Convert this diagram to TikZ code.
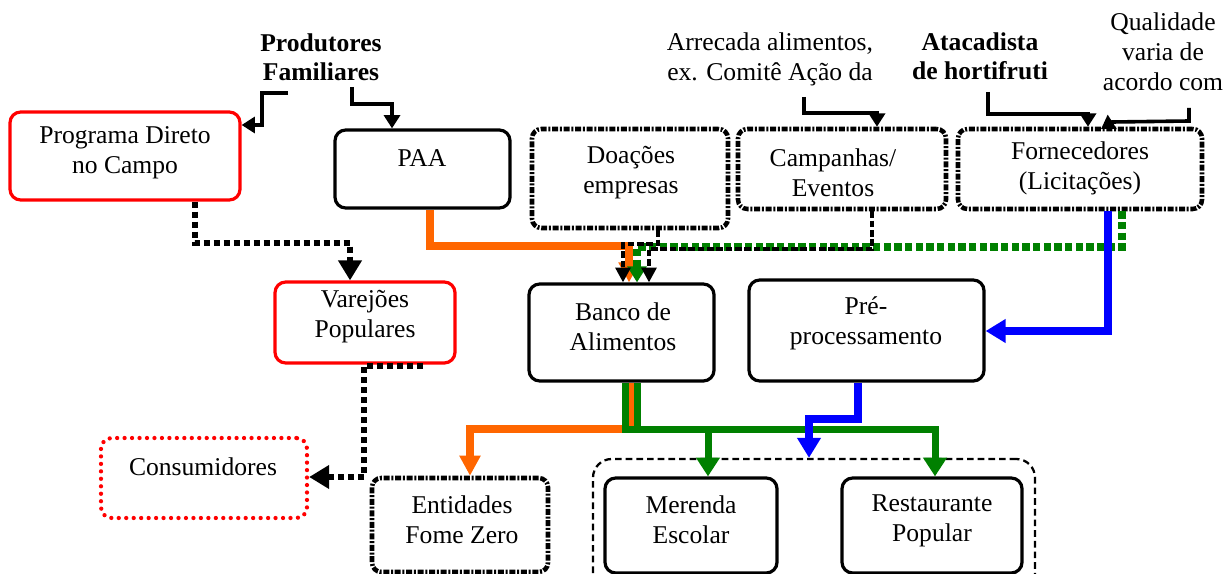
\documentclass[tikz,border=0pt]{standalone}
\usepackage{fontspec}
\setmainfont{Liberation Serif}
\usetikzlibrary{arrows.meta,fit}
\definecolor{myorange}{RGB}{255,102,0}
\definecolor{mygreen}{RGB}{0,128,0}
\definecolor{myblue}{RGB}{0,0,255}
\definecolor{myred}{RGB}{255,0,0}
\begin{document}
\begin{tikzpicture}[x=0.75pt,y=-0.75pt,
 every node/.style={font=\fontsize{19.2}{22.5}\selectfont},
 txt/.style={align=center, inner sep=0pt},
 boldtxt/.style={align=center, inner sep=0pt, font=\fontsize{19.2}{22}\selectfont\bfseries},
 boxsolid/.style={draw, line width=2.4pt, rounded corners=8pt, inner sep=0pt},
 boxred/.style={boxsolid, draw=myred},
 boxdd/.style={draw, line width=3.4pt, rounded corners=7pt, inner sep=0pt, dash pattern=on 4.5pt off 1.3pt on 1.5pt off 1.3pt},
 boxdot/.style={draw=myred, line width=3.2pt, rounded corners=8pt, inner sep=0pt, line cap=round, dash pattern=on 0pt off 5.6pt},
 grpbox/.style={draw, line width=1.7pt, rounded corners=14pt, inner sep=0pt, dash pattern=on 5pt off 3pt},
 thinarr/.style={draw, line width=2.7pt, -{Triangle[width=12pt,length=10pt]}},
 dotarr/.style={draw, line width=5pt, dash pattern=on 4.5pt off 3pt, -{Triangle[width=17pt,length=15pt]}},
 dasharr/.style={draw, line width=2.6pt, dash pattern=on 5pt off 2pt, -{Triangle[width=11pt,length=11pt]}},
 greendot/.style={draw=mygreen, line width=5.5pt, dash pattern=on 5.5pt off 2.5pt, -{Triangle[width=14pt,length=12pt]}},
 orangearr/.style={draw=myorange, line width=5.5pt, -{Triangle[width=15pt,length=15pt]}},
 greenarr/.style={draw=mygreen, line width=5.25pt, -{Triangle[width=17pt,length=14pt]}},
 bluearr/.style={draw=myblue, line width=6pt, -{Triangle[width=17pt,length=15pt]}},
 plainline/.style={line width=5.25pt}
]
\useasboundingbox (0,0) rectangle (1228,574);

% ---------- boxes ----------
\node[boxred, fit={(10,112)(240,200)}] (prog) {};
\node[txt] (tprog) at (125,153) {Programa Direto\\no Campo};
\node[boxsolid, fit={(335,130)(510,208)}] (paa) {};
\node[txt] (tpaa) at (422,158) {PAA};
\node[boxdd, fit={(532,129)(728,228)}] (doa) {};
\node[txt] (tdoa) at (631,173) {Doações\\empresas};
\node[boxdd, fit={(738,129)(946,209)}] (camp) {};
\node[txt] (tcamp) at (833,173) {Campanhas/\\Eventos};
\node[boxdd, fit={(958,129)(1202,209)}] (forn) {};
\node[txt] (tforn) at (1080,168) {Fornecedores\\(Licitações)};
\node[boxred, fit={(275,282)(455,363)}] (var) {};
\node[txt] (tvar) at (365,317) {Varejões\\Populares};
\node[boxsolid, fit={(529,284)(714,381)}] (banco) {};
\node[txt] (tbanco) at (623,327) {Banco de\\Alimentos};
\node[boxsolid, fit={(749,280)(984,381)}] (pre) {};
\node[txt] (tpre) at (866,323) {Pré-\\processamento};
\node[boxdot, fit={(101,438)(307,518)}] (cons) {};
\node[txt] (tcons) at (203,467) {Consumidores};
\node[boxdd, fit={(372,478)(548,572)}] (ent) {};
\node[txt] (tent) at (462,520) {Entidades\\Fome Zero};
\node[grpbox, fit={(593,459)(1035,600)}] (grp) {};
\node[boxsolid, fit={(605,478)(777,573)}] (mer) {};
\node[txt] (tmer) at (691,520) {Merenda\\Escolar};
\node[boxsolid, fit={(842,478)(1022,573)}] (rest) {};
\node[txt] (trest) at (932,521) {Restaurante\\Popular};

% ---------- labels ----------
\node[boldtxt] (prod) at (321,57) {Produtores\\Familiares};
\node[txt] (arre) at (770,59) {Arrecada alimentos,\\ex. Comitê Ação da};
\node[boldtxt] (atac) at (980,56) {Atacadista\\de hortifruti};
\node[txt] (qual) at (1163,52) {Qualidade\\varia de\\acordo com};

\coordinate (pl) at (288,93);
\coordinate (pr) at (352,87);
\coordinate (ar) at (804,97);
\coordinate (at) at (988,92);
\coordinate (qu) at (1189,108);

% ---------- thin connectors from labels ----------
\draw[thinarr] (pl) -- (262,93) -- (262,125) -- (prog.east |- 0,125);
\draw[thinarr] (pr) -- (352,104) -- (392,104) -- (392,0 |- paa.north);
\draw[thinarr] (ar) -- (804,113) -- (877,113) -- (877,0 |- camp.north);
\draw[thinarr] (at) -- (988,114) -- (1088,114) -- (1088,0 |- forn.north);
\draw[thinarr] (qu) -- (1189,121) -- (1112,122) -- (1101,129);

% ---------- into Banco de Alimentos ----------
\draw[orangearr, line width=6pt] (430,0 |- paa.south) -- (430,246) -- (629,246) -- (629,0 |- banco.north);
\draw[greendot] (1122,0 |- forn.south) -- (1122,247) -- (637,247) -- (637,0 |- banco.north);
\draw[dasharr] (658,0 |- doa.south) -- (658,244) -- (623,244) -- (623,0 |- banco.north);
\draw[dasharr] (872,0 |- camp.south) -- (872,249) -- (649,249) -- (649,0 |- banco.north);

% ---------- Fornecedores to Pre-processamento ----------
\draw[bluearr] (1108,0 |- forn.south) -- (1108,331) -- (pre.east |- 0,331);

% ---------- Programa -> Varejoes -> Consumidores ----------
\draw[dotarr] (195,0 |- prog.south) -- (195,243) -- (350,243) -- (350,0 |- var.north);
\draw[dotarr] (423,366) -- (364,366) -- (364,477) -- (cons.east |- 0,477);

% ---------- out of Banco ----------
\draw[orangearr] (630,0 |- banco.south) -- (630,429) -- (470,429) -- (470,0 |- ent.north);
\draw[greenarr] (625,0 |- banco.south) -- (625,429) -- (935,429) -- (935,0 |- rest.north);
\draw[draw=mygreen, plainline] (637,0 |- banco.south) -- (637,429);
\draw[greenarr] (708,429) -- (708,0 |- mer.north);

% ---------- Pre-processamento to group ----------
\draw[bluearr] (858,0 |- pre.south) -- (858,419) -- (809,419) -- (809,0 |- grp.north);
\end{tikzpicture}
\end{document}
